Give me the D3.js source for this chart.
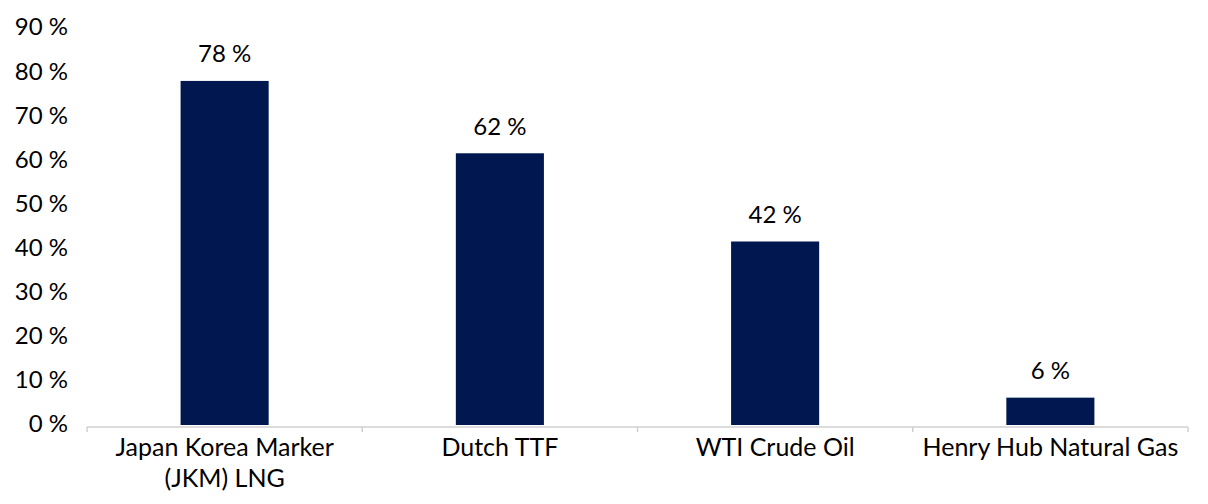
<!DOCTYPE html>
<html>
<head>
<meta charset="utf-8">
<script src="https://cdn.jsdelivr.net/npm/d3@7"></script>
<style>
  body { margin: 0; background: #fff; }
  text { font-family: "Lato", "Noto Sans", sans-serif; fill: #000; }
</style>
</head>
<body>
<div id="chart"></div>
<script>
const categories = [["Japan Korea Marker", "(JKM) LNG"], ["Dutch TTF"], ["WTI Crude Oil"], ["Henry Hub Natural Gas"]];
const values = [78.0, 61.6, 41.6, 6.2];
const yTicks = [0, 10, 20, 30, 40, 50, 60, 70, 80, 90];

const width = 1208;
const height = 504;
const margin = {top: 28, right: 20, bottom: 79, left: 87};

const svg = d3.select("#chart")
  .append("svg")
  .attr("width", width)
  .attr("height", height);

const x = d3.scaleBand()
  .domain(d3.range(categories.length))
  .range([margin.left, width - margin.right])
  .paddingInner(0.68)
  .paddingOuter(0.34);

const y = d3.scaleLinear()
  .domain([0, 90])
  .range([height - margin.bottom, margin.top]);

const fmt = d => d3.format(".0f")(d) + " %";

// y tick labels (no axis line)
svg.append("g")
  .selectAll("text")
  .data(yTicks)
  .join("text")
    .attr("x", 68)
    .attr("y", d => y(d) - 1)
    .attr("dy", "0.35em")
    .attr("text-anchor", "end")
    .attr("font-size", 24)
    .text(d => d + " %");

// bars
svg.append("g")
  .selectAll("rect")
  .data(values)
  .join("rect")
    .attr("x", (d, i) => x(i))
    .attr("y", d => y(d))
    .attr("width", x.bandwidth())
    .attr("height", d => y(0) - y(d))
    .attr("fill", "#00184f");

// value labels
svg.append("g")
  .selectAll("text")
  .data(values)
  .join("text")
    .attr("x", (d, i) => x(i) + x.bandwidth() / 2)
    .attr("y", d => y(d) - 27)
    .attr("dy", "0.35em")
    .attr("text-anchor", "middle")
    .attr("font-size", 24)
    .text(fmt);

// x axis line and category boundary ticks
const step = x.step();
const x0 = margin.left, x1 = width - margin.right;
const base = y(0) + 2;
svg.append("line")
  .attr("x1", x0).attr("x2", x1)
  .attr("y1", base).attr("y2", base)
  .attr("stroke", "#d0d0d0")
  .attr("stroke-width", 1.5);

svg.append("g")
  .selectAll("line")
  .data(d3.range(categories.length + 1))
  .join("line")
    .attr("x1", i => x0 + i * step)
    .attr("x2", i => x0 + i * step)
    .attr("y1", base)
    .attr("y2", base + 5)
    .attr("stroke", "#d0d0d0")
    .attr("stroke-width", 1.5);

// category labels
const cat = svg.append("g")
  .selectAll("text")
  .data(categories)
  .join("text")
    .attr("x", (d, i) => x(i) + x.bandwidth() / 2)
    .attr("y", 456)
    .attr("text-anchor", "middle")
    .attr("font-size", 25);

cat.selectAll("tspan")
  .data(d => d)
  .join("tspan")
    .attr("x", function() { return d3.select(this.parentNode).attr("x"); })
    .attr("dy", (d, i) => i === 0 ? 0 : 31)
    .text(d => d);
</script>
</body>
</html>
